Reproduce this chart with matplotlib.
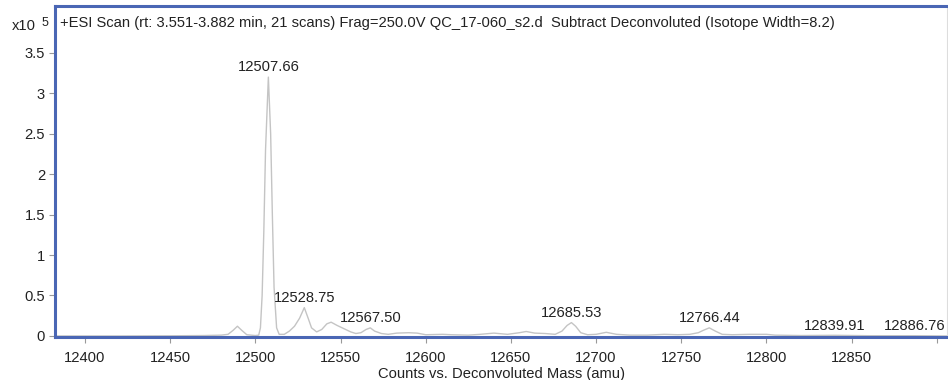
"""Deconvoluted ESI mass spectrum of QC_17-060_s2 with the labelled peak masses."""
import matplotlib

matplotlib.use("Agg")
import matplotlib.pyplot as plt  # noqa: E402
from matplotlib.ticker import FixedLocator, FuncFormatter  # noqa: E402

plt.rcParams["font.family"] = ["Liberation Sans", "DejaVu Sans"]

# profile of the deconvoluted spectrum: mass (amu) and counts
mass = [
    12383, 12420, 12450, 12470, 12480, 12484, 12487, 12489.5, 12492, 12495,
    12500, 12502, 12503, 12504, 12505, 12506, 12507.66, 12509, 12510, 12511,
    12512.5, 12514, 12517, 12520, 12523, 12526, 12528.75, 12531, 12533, 12536,
    12539, 12542, 12544.5, 12548, 12552, 12556, 12559, 12562, 12565, 12567.5,
    12570, 12574, 12578, 12583, 12590, 12595, 12600, 12610, 12615, 12625,
    12632, 12640, 12648, 12655, 12659, 12664, 12670, 12676, 12680, 12683,
    12685.53, 12688, 12691, 12695, 12700, 12706, 12712, 12720, 12730, 12740,
    12748, 12755, 12760, 12763, 12766.44, 12770, 12774, 12780, 12790, 12800,
    12805, 12820, 12840, 12860, 12886.76, 12906,
]
counts = [
    0, 0, 200, 500, 1000, 2000, 7000, 12000, 7000, 1500,
    500, 1000, 10000, 50000, 130000, 230000, 320000, 250000, 150000, 60000,
    10000, 2000, 2000, 6000, 12000, 22000, 35000, 22000, 10000, 5000,
    8000, 15000, 17000, 13000, 9000, 5000, 3000, 4000, 8000, 10000,
    6000, 3000, 2000, 3500, 4000, 3500, 1500, 2000, 1500, 1000,
    2000, 3500, 2000, 4000, 5500, 3500, 3000, 2000, 6000, 13000,
    16500, 12000, 4000, 1500, 2000, 4500, 2000, 1000, 1000, 2000,
    1500, 2000, 4000, 7000, 10000, 6000, 2000, 1500, 2000, 2000,
    1000, 500, 800, 300, 300, 0,
]

# peaks annotated with their mass
peak_mass = [12507.66, 12528.75, 12567.50, 12685.53, 12766.44, 12839.91, 12886.76]
peak_counts = [320000, 35000, 10000, 16500, 10000, 800, 300]

x_ticks = [12400, 12450, 12500, 12550, 12600, 12650, 12700, 12750, 12800, 12850, 12900]
y_ticks = [0, 50000, 100000, 150000, 200000, 250000, 300000, 350000]

title = ("+ESI Scan (rt: 3.551-3.882 min, 21 scans) Frag=250.0V QC_17-060_s2.d  "
         "Subtract Deconvoluted (Isotope Width=8.2)")

frame = "#4a66b4"
ink = "#222222"
fs = 10.6
fig = plt.figure(figsize=(9.48, 3.8), dpi=100)
ax = fig.add_axes([0.0585, 0.112, 0.9405, 0.8735])

ax.plot(mass, counts, color="#c4c4c4", lw=1.0)
for m, c in zip(peak_mass, peak_counts):
    ax.annotate(f"{m:.2f}", (m, c), xytext=(0, 2), textcoords="offset points",
                ha="center", va="bottom", fontsize=fs, color=ink)

ax.set_xlim(12382.7, 12906)
ax.set_ylim(-1850, 408500)
ax.xaxis.set_major_locator(FixedLocator(x_ticks))
# the last tick sits at the right edge, so it keeps its mark but no label
ax.xaxis.set_major_formatter(FuncFormatter(lambda v, _: "" if v > 12880 else f"{v:g}"))
ax.yaxis.set_major_locator(FixedLocator(y_ticks))
ax.yaxis.set_major_formatter(FuncFormatter(lambda v, _: f"{v / 1e5:g}"))
ax.tick_params(labelsize=fs, colors="#999999", labelcolor=ink,
               length=4, width=0.8)
ax.tick_params(axis="x", pad=6)

for side in ("left", "top", "bottom"):
    ax.spines[side].set_color(frame)
    ax.spines[side].set_linewidth(2.2)
ax.spines["right"].set_color("#dddddd")
ax.spines["right"].set_linewidth(0.8)

ax.set_xlabel("Counts vs. Deconvoluted Mass (amu)", fontsize=fs,
              color=ink, labelpad=1)
fig.text(60 / 948, 1 - 23 / 380, title, fontsize=fs, va="center", color=ink)
fig.text(12 / 948, 1 - 26 / 380, "x10", fontsize=fs, va="center", color=ink)
fig.text(42 / 948, 1 - 23 / 380, "5", fontsize=9, va="center", color=ink)

fig.savefig("out.png", dpi=100)
